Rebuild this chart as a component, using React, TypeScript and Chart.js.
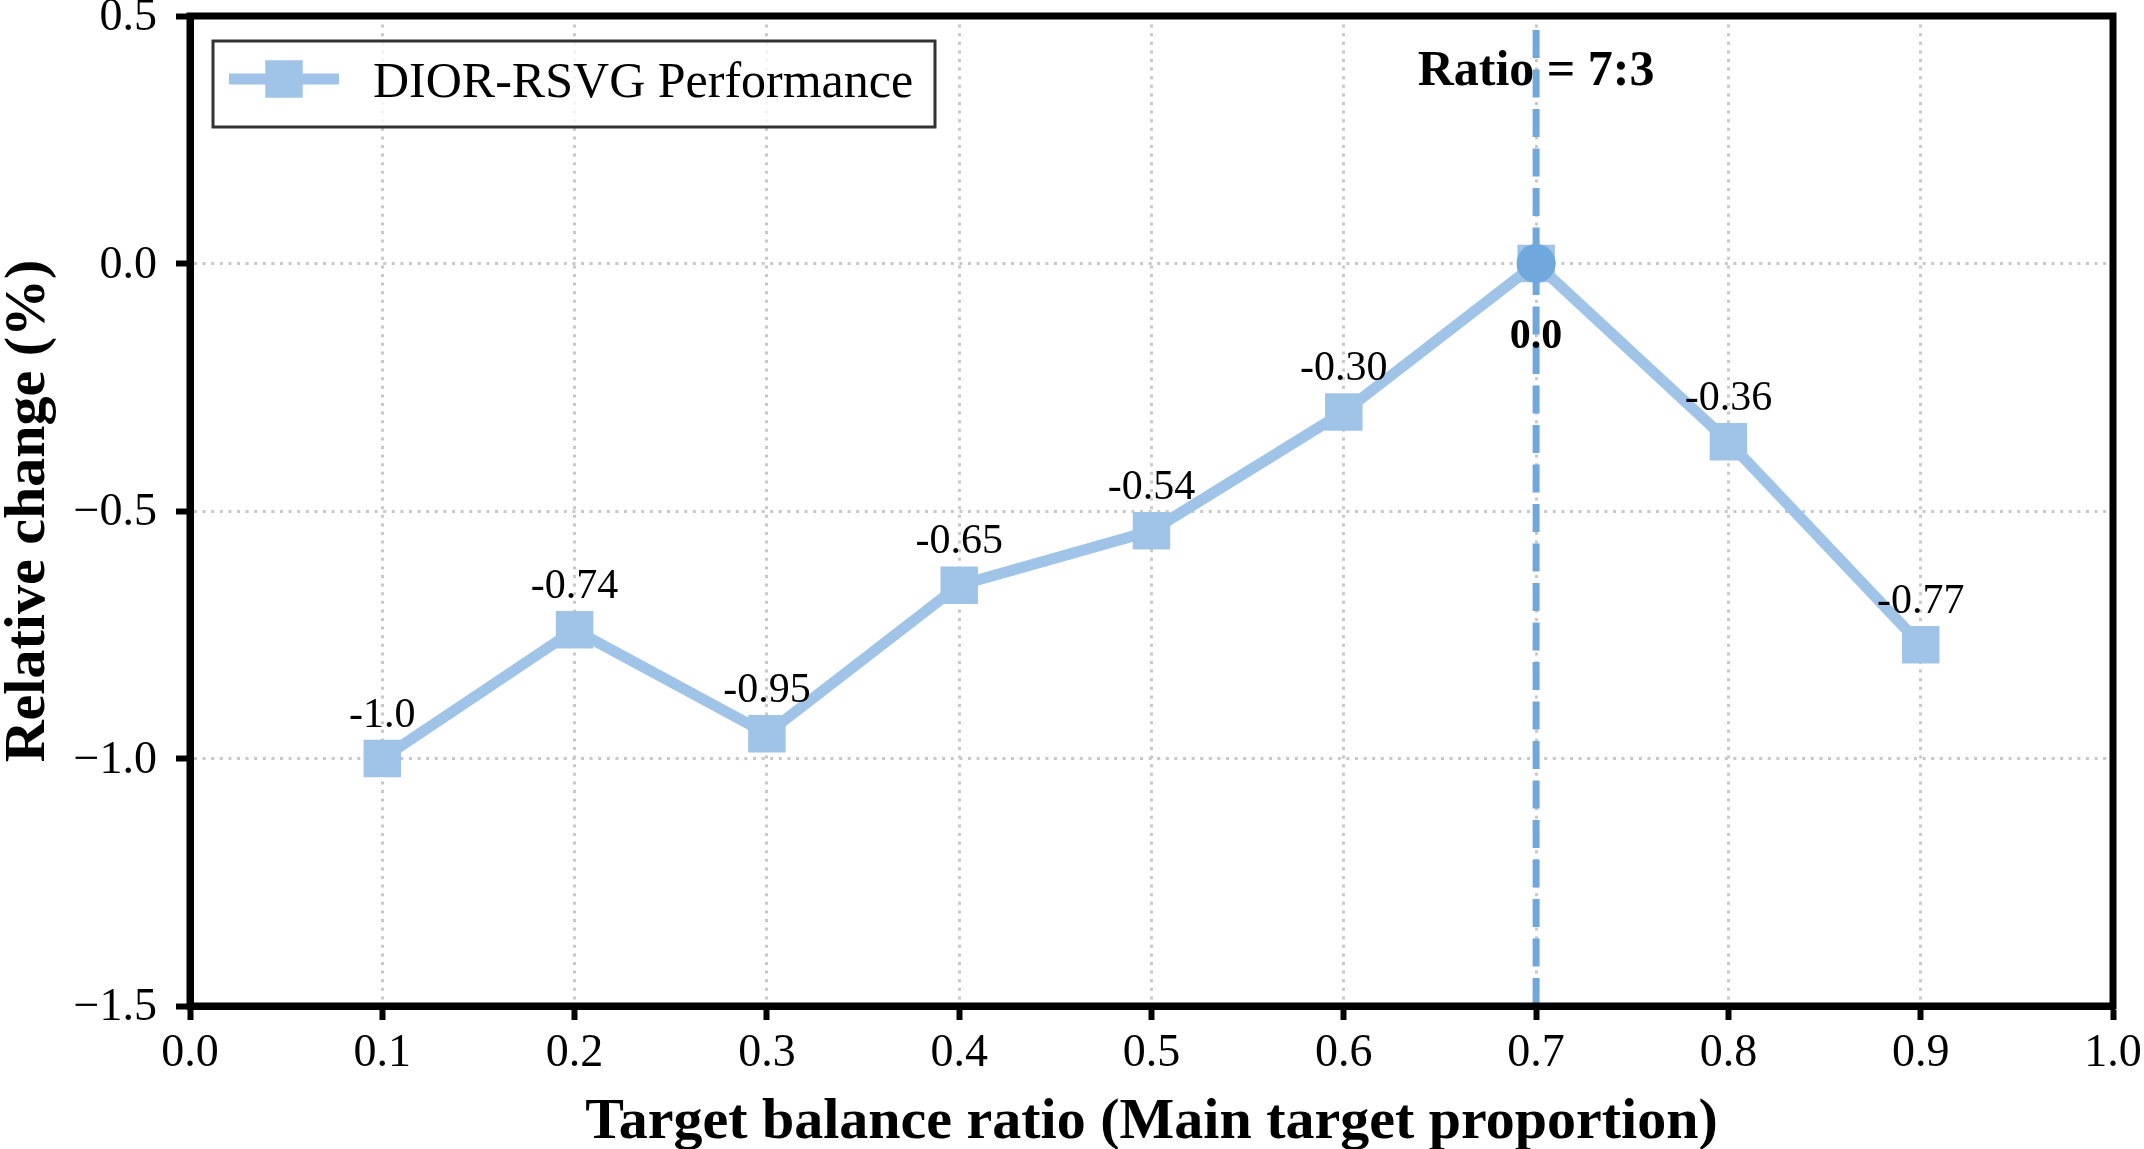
import { useEffect, useRef } from 'react';
import { Chart, registerables } from 'chart.js';

Chart.register(...registerables);

// Balance ratio of the main target vs. relative change of DIOR-RSVG performance
const ratios = [0.1, 0.2, 0.3, 0.4, 0.5, 0.6, 0.7, 0.8, 0.9];
const relativeChange = [-1.0, -0.74, -0.95, -0.65, -0.54, -0.3, 0.0, -0.36, -0.77];
const valueLabels = ['-1.0', '-0.74', '-0.95', '-0.65', '-0.54', '-0.30', '0.0', '-0.36', '-0.77'];

// Best setting, highlighted with a marker and a vertical reference line
const bestRatio = [0.7];
const bestChange = [0.0];
const bestLabel = 'Ratio = 7:3';

const seriesName = 'DIOR-RSVG Performance';
const xTitle = 'Target balance ratio (Main target proportion)';
const yTitle = 'Relative change (%)';

const xRange = [0, 1];
const yRange = [-1.5, 0.5];
const xStep = 0.1;
const yStep = 0.5;

const SERIF = "'Liberation Serif', 'Times New Roman', Times, serif";
const LINE_BLUE = '#a0c4e8';
const MARK_BLUE = '#6fa8dc';
const GRID_GREY = '#c8c8c8';

const W = 2144;
const H = 1149;
const PLOT_LEFT = 190;
const PLOT_TOP = 16;
const PLOT_RIGHT = 2113;
const PLOT_BOTTOM = 1006;

const fmtTick = (v: number) => {
  const r = Math.round(v * 10) / 10;
  if (Math.abs(r) < 1e-9) return '0.0';
  return r < 0 ? '\u2212' + Math.abs(r).toFixed(1) : r.toFixed(1);
};

const zeroPadding = (scale: any) => {
  scale.paddingLeft = 0;
  scale.paddingRight = 0;
  scale.paddingTop = 0;
  scale.paddingBottom = 0;
};

const decorPlugin = {
  id: 'decor',
  beforeDraw(chart: any) {
    const { ctx } = chart;
    ctx.save();
    ctx.fillStyle = '#ffffff';
    ctx.fillRect(0, 0, chart.width, chart.height);
    ctx.restore();
  },
  beforeDatasetsDraw(chart: any) {
    const { ctx, chartArea, scales } = chart;
    const x = scales.x.getPixelForValue(bestRatio[0]);

    // annotation for the best ratio
    ctx.save();
    ctx.fillStyle = '#000000';
    ctx.font = `bold 50px ${SERIF}`;
    ctx.textAlign = 'center';
    ctx.textBaseline = 'alphabetic';
    ctx.fillText(bestLabel, x, chartArea.top + 69);
    ctx.restore();

    // vertical dashed reference line
    ctx.save();
    ctx.beginPath();
    ctx.rect(chartArea.left, chartArea.top, chartArea.right - chartArea.left, chartArea.bottom - chartArea.top);
    ctx.clip();
    ctx.strokeStyle = MARK_BLUE;
    ctx.lineWidth = 7;
    ctx.setLineDash([28, 11.5]);
    ctx.beginPath();
    ctx.moveTo(x, chartArea.bottom);
    ctx.lineTo(x, chartArea.top);
    ctx.stroke();
    ctx.restore();
  },
  afterDatasetsDraw(chart: any) {
    const { ctx } = chart;
    const meta = chart.getDatasetMeta(1);
    ctx.save();
    ctx.fillStyle = '#000000';
    ctx.textAlign = 'center';
    ctx.textBaseline = 'alphabetic';
    meta.data.forEach((pt: any, i: number) => {
      const isBest = Math.abs(ratios[i] - bestRatio[0]) < 1e-9;
      ctx.font = `${isBest ? 'bold ' : ''}42px ${SERIF}`;
      ctx.fillText(valueLabels[i], pt.x, isBest ? pt.y + 84 : pt.y - 32);
    });
    ctx.restore();
  },
  afterDraw(chart: any) {
    const { ctx, chartArea } = chart;
    const { left, top, right, bottom } = chartArea;

    // axes frame
    ctx.save();
    ctx.strokeStyle = '#000000';
    ctx.lineWidth = 7;
    ctx.lineJoin = 'miter';
    ctx.strokeRect(left, top, right - left, bottom - top);
    ctx.restore();

    // axis titles
    ctx.save();
    ctx.fillStyle = '#000000';
    ctx.font = `bold 58px ${SERIF}`;
    ctx.textAlign = 'center';
    ctx.textBaseline = 'alphabetic';
    ctx.fillText(xTitle, (left + right) / 2, bottom + 132);
    ctx.translate(44, (top + bottom) / 2);
    ctx.rotate(-Math.PI / 2);
    ctx.fillText(yTitle, 0, 0);
    ctx.restore();

    // legend
    const bx = left + 23;
    const by = top + 25;
    const bw = 722;
    const bh = 86;
    ctx.save();
    ctx.fillStyle = 'rgba(255,255,255,0.8)';
    ctx.fillRect(bx, by, bw, bh);
    ctx.strokeStyle = '#333333';
    ctx.lineWidth = 3;
    ctx.strokeRect(bx, by, bw, bh);
    const hy = by + 38;
    ctx.strokeStyle = LINE_BLUE;
    ctx.lineWidth = 11;
    ctx.beginPath();
    ctx.moveTo(bx + 16, hy);
    ctx.lineTo(bx + 126, hy);
    ctx.stroke();
    ctx.fillStyle = LINE_BLUE;
    ctx.fillRect(bx + 71 - 18.75, hy - 18.75, 37.5, 37.5);
    ctx.fillStyle = '#000000';
    ctx.font = `50px ${SERIF}`;
    ctx.textAlign = 'left';
    ctx.textBaseline = 'alphabetic';
    ctx.fillText(seriesName, bx + 160, by + 56);
    ctx.restore();
  },
};

export default function App() {
  const canvasRef = useRef<HTMLCanvasElement | null>(null);

  useEffect(() => {
    const canvas = canvasRef.current;
    if (!canvas) return;

    const linePoints = ratios.map((r, i) => ({ x: r, y: relativeChange[i] }));
    const bestPoints = bestRatio.map((r, i) => ({ x: r, y: bestChange[i] }));

    const chart = new Chart(canvas, {
      type: 'line',
      data: {
        datasets: [
          {
            label: 'best',
            data: bestPoints,
            showLine: false,
            pointStyle: 'circle',
            pointRadius: 19.5,
            pointBackgroundColor: MARK_BLUE,
            pointBorderWidth: 0,
            order: 0,
          },
          {
            label: seriesName,
            data: linePoints,
            borderColor: LINE_BLUE,
            borderWidth: 11,
            pointStyle: 'rect',
            pointRadius: 26.5,
            pointBackgroundColor: LINE_BLUE,
            pointBorderWidth: 0,
            tension: 0,
            order: 1,
          },
        ],
      },
      options: {
        responsive: false,
        animation: false,
        devicePixelRatio: 1,
        layout: {
          autoPadding: false,
          padding: { top: PLOT_TOP, right: W - PLOT_RIGHT, left: 0, bottom: 0 },
        },
        plugins: {
          legend: { display: false },
          tooltip: { enabled: false },
        },
        scales: {
          x: {
            type: 'linear',
            min: xRange[0],
            max: xRange[1],
            ticks: {
              stepSize: xStep,
              font: { family: SERIF, size: 46, lineHeight: 1 },
              color: '#000000',
              padding: 11,
              maxRotation: 0,
              autoSkip: false,
              callback: (v: any) => fmtTick(Number(v)),
            },
            grid: {
              color: GRID_GREY,
              lineWidth: 3,
              tickColor: '#000000',
              tickWidth: 6,
              tickLength: 14,
            },
            border: { display: true, color: '#000000', width: 7, dash: [3, 5.6] },
            afterFit: (scale: any) => {
              scale.height = H - PLOT_BOTTOM;
              zeroPadding(scale);
            },
          },
          y: {
            type: 'linear',
            min: yRange[0],
            max: yRange[1],
            ticks: {
              stepSize: yStep,
              font: { family: SERIF, size: 46, lineHeight: 0.6 },
              color: '#000000',
              padding: 19,
              labelOffset: 2,
              callback: (v: any) => fmtTick(Number(v)),
            },
            grid: {
              color: GRID_GREY,
              lineWidth: 3,
              tickColor: '#000000',
              tickWidth: 6,
              tickLength: 14,
            },
            border: { display: true, color: '#000000', width: 7, dash: [3, 5.6] },
            afterFit: (scale: any) => {
              scale.width = PLOT_LEFT;
              zeroPadding(scale);
            },
          },
        },
      },
      plugins: [decorPlugin],
    } as any);

    return () => chart.destroy();
  }, []);

  return (
    <div style={{ position: 'absolute', left: 0, top: 0, width: W, height: H, background: '#ffffff' }}>
      <canvas ref={canvasRef} width={W} height={H} style={{ display: 'block', width: W, height: H }} />
    </div>
  );
}
